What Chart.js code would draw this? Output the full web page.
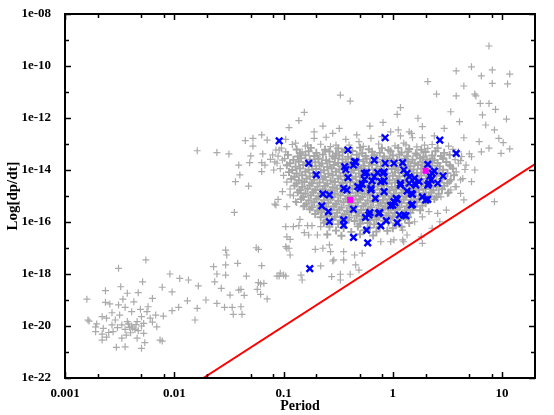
<!DOCTYPE html>
<html>
<head>
<meta charset="utf-8">
<script src="https://cdn.jsdelivr.net/npm/chart.js@4.4.1/dist/chart.umd.min.js"></script>
<style>
  html, body { margin: 0; padding: 0; background: #fff; }
  #wrap { width: 554px; height: 415px; }
</style>
</head>
<body>
<div id="wrap"><canvas id="ppdot" width="554" height="415"></canvas></div>
<script>
// all points are [log10(Period), log10(dP/dt)]

// short period tail and the sparse middle part
const grayLow = [
  [-2.26,-17.46],[-2.51,-17.78],[-2.04,-18.00],[-1.95,-18.17],[-1.87,-18.23],[-2.29,-18.30],[-1.78,-18.46],[-2.49,-18.49],
  [-2.11,-18.51],[-2.63,-18.64],[-2.33,-18.72],[-2.02,-18.69],[-2.43,-18.74],[-2.20,-18.94],[-2.80,-18.97],[-2.47,-18.97],
  [-2.37,-19.07],[-2.63,-19.09],[-1.88,-19.03],[-2.59,-19.15],[-2.51,-19.19],[-2.24,-19.26],[-1.96,-19.28],[-1.79,-19.32],
  [-2.45,-19.28],[-2.31,-19.36],[-2.39,-19.45],[-2.57,-19.49],[-2.02,-19.41],[-2.25,-19.45],[-2.17,-19.58],[-2.10,-19.62],
  [-2.66,-19.64],[-2.50,-19.58],[-2.30,-19.64],[-2.62,-19.70],[-2.22,-19.70],[-2.79,-19.77],[-2.54,-19.77],[-1.81,-19.77],
  [-2.43,-19.83],[-2.34,-19.83],[-2.71,-19.92],[-2.57,-19.96],[-2.48,-19.96],[-2.39,-20.00],[-2.30,-20.00],[-2.16,-20.03],
  [-2.65,-20.09],[-2.45,-20.13],[-2.36,-20.13],[-2.72,-20.22],[-2.56,-20.22],[-2.40,-20.26],[-2.28,-20.28],[-2.62,-20.43],
  [-2.48,-20.47],[-2.34,-20.47],[-2.66,-20.54],[-2.13,-20.54],[-2.27,-20.64],[-2.45,-20.80],[-2.53,-20.82],[-2.30,-20.86],
  [-2.78,-19.81],[-2.72,-20.03],[-2.66,-20.31],[-2.11,-20.58],[-2.41,-20.05],[-2.35,-19.95],[-2.42,-19.92],[-2.38,-20.08],
  [-2.33,-20.18],[-2.44,-20.35],[-2.52,-20.06],[-2.28,-19.90],[-2.20,-19.85],[-2.60,-20.25],
  [-1.71,-19.00],[-1.64,-17.72],[-1.63,-18.30],[-1.61,-18.00],[-1.57,-18.55],[-1.53,-17.08],[-1.52,-17.27],[-1.53,-17.65],
  [-1.42,-17.59],[-1.53,-18.04],[-1.49,-18.81],[-1.41,-18.62],[-1.61,-19.13],[-1.54,-19.28],[-1.47,-19.28],[-1.46,-19.55],
  [-1.39,-19.26],[-1.38,-19.55],[-1.36,-18.82],[-1.34,-18.08],[-1.25,-16.99],[-1.23,-17.05],[-1.20,-17.68],[-1.24,-18.59],
  [-1.23,-18.33],[-1.18,-18.36],[-1.15,-18.96],[-1.06,-18.08],[-1.21,-18.78],[-1.45,-15.63],[-1.08,-15.31],[-1.04,-18.08],
  [-0.98,-18.08],[-1.39,-18.59],[-1.21,-18.38],
  [-1.79,-13.26],[-1.61,-13.33],[-1.50,-13.38],[-1.35,-12.87],[-1.28,-12.78],[-1.20,-12.65],[-1.28,-13.08],[-1.15,-12.85],
  [-1.30,-13.46],[-1.31,-13.72],[-1.41,-13.81],[-1.19,-13.38],[-1.20,-13.72],[-1.40,-14.19],[-1.44,-14.45],[-1.32,-14.62],
  [-1.20,-14.06],[-1.17,-13.81],[-1.12,-13.59],[-1.10,-13.42],[-1.04,-13.23],[-1.01,-13.62],[-1.09,-14.00],[-1.06,-13.74],
  [-1.01,-14.83],[-1.05,-15.13],[-1.07,-15.35],[-0.97,-15.41],[-0.97,-16.57],[-0.97,-17.01]
];

// edges of the main cloud
const grayEdge = [
  [-0.94,-14.96],[-0.89,-15.22],[-0.84,-14.88],[-0.82,-15.41],[-0.85,-15.90],[-0.78,-16.14],[-0.86,-16.14],[-0.74,-16.14],
  [-0.66,-16.18],[-0.77,-16.50],[-0.69,-16.50],[-0.95,-17.01],[-0.94,-17.27],[-1.03,-17.97],[-0.66,-17.69],[-0.58,-16.88],
  [-0.57,-17.14],[-0.54,-17.46],[-0.45,-17.46],[-0.34,-17.65],[-0.48,-18.01],[-0.39,-18.01],[-0.31,-17.85],
  [0.27,-16.82],[0.10,-16.76],[-0.02,-16.76],[-0.11,-16.76],[-0.28,-17.20],[-0.35,-17.27],[-0.45,-17.14],[-0.64,-17.01],
  [-0.71,-17.05],[-0.55,-17.50],[-0.48,-18.23],[-0.56,-18.10],[-0.84,-18.04],[-0.83,-18.23],[-1.00,-18.04],
  [-0.98,-16.18],[-0.91,-16.18],[-0.81,-16.41],[-0.94,-16.67],[-0.98,-16.95],
  [0.33,-15.60],[0.27,-15.80],[0.41,-15.67],[0.49,-15.54],[0.43,-15.99],[0.36,-16.24],[0.26,-16.57],[0.01,-16.69],
  [0.09,-16.69],[0.13,-16.50],[0.09,-16.31],[0.20,-15.99],[0.32,-15.15],[0.44,-15.03],[0.53,-14.77],[0.52,-14.45],
  [0.72,-14.45],[0.62,-14.90],[0.65,-15.15],
  [-1.02,-13.16],[-0.98,-13.30],[-1.05,-13.47],[-0.99,-13.56],[-1.08,-13.69],[-1.03,-13.95],[-1.00,-14.21],[-0.97,-14.47],
  [-0.94,-14.73],[-0.91,-14.99],[-0.88,-15.25],[0.55,-13.21],[0.60,-13.30],[0.63,-13.48],[0.57,-13.60],[0.60,-13.74],
  [0.66,-13.98],[0.58,-14.07],[0.64,-14.33],[0.57,-14.64],
  [-0.92,-13.02],[-0.80,-13.08],[-0.66,-13.01],[-0.57,-13.10],[-0.40,-13.04],[-0.27,-13.09],[-0.13,-13.00],[0.02,-13.07],
  [0.12,-13.03],[0.22,-13.11],[0.36,-13.02]
];

// the dense core, drawn with heavier crosses
const grayCore = [
  [-0.88,-13.21],[-0.75,-13.15],[-0.62,-13.22],[-0.50,-13.17],[-0.44,-13.24],[-0.30,-13.14],[-0.22,-13.20],[-0.10,-13.16],[-0.04,-13.23],[0.05,-13.15],[0.15,-13.19],[0.26,-13.22],[0.41,-13.16],
  [-0.85,-13.35],[-0.77,-13.28],[-0.70,-13.34],[-0.58,-13.29],[-0.52,-13.36],[-0.46,-13.31],[-0.37,-13.27],[-0.28,-13.35],[-0.19,-13.30],[-0.12,-13.34],[-0.02,-13.28],[0.08,-13.33],[0.14,-13.29],[0.21,-13.36],[0.30,-13.31],[0.39,-13.28],[0.47,-13.34],
  [-0.96,-13.42],[-0.87,-13.48],[-0.80,-13.43],[-0.72,-13.46],[-0.64,-13.41],[-0.55,-13.47],[-0.49,-13.44],[-0.41,-13.49],[-0.33,-13.42],[-0.25,-13.46],[-0.17,-13.43],[-0.08,-13.48],[0.00,-13.44],[0.06,-13.41],[0.13,-13.47],[0.22,-13.43],[0.28,-13.49],[0.36,-13.44],[0.44,-13.46],[0.52,-13.42],
  [-0.91,-13.61],[-0.84,-13.55],[-0.76,-13.60],[-0.68,-13.57],[-0.61,-13.62],[-0.53,-13.55],[-0.46,-13.59],[-0.38,-13.56],[-0.31,-13.61],[-0.24,-13.57],[-0.16,-13.54],[-0.09,-13.60],[-0.03,-13.56],[0.04,-13.62],[0.11,-13.57],[0.18,-13.60],[0.25,-13.55],[0.31,-13.59],[0.38,-13.62],[0.46,-13.57],
  [-0.94,-13.74],[-0.86,-13.68],[-0.79,-13.72],[-0.71,-13.70],[-0.65,-13.75],[-0.58,-13.68],[-0.50,-13.73],[-0.43,-13.70],[-0.35,-13.74],[-0.27,-13.67],[-0.21,-13.72],[-0.14,-13.69],[-0.06,-13.74],[0.01,-13.70],[0.08,-13.73],[0.14,-13.68],[0.20,-13.74],[0.27,-13.71],[0.34,-13.67],[0.41,-13.73],[0.49,-13.69],
  [-0.97,-13.82],[-0.89,-13.87],[-0.82,-13.81],[-0.74,-13.86],[-0.67,-13.83],[-0.60,-13.88],[-0.54,-13.81],[-0.47,-13.85],[-0.40,-13.82],[-0.32,-13.87],[-0.26,-13.84],[-0.19,-13.80],[-0.11,-13.86],[-0.04,-13.83],[0.03,-13.88],[0.10,-13.82],[0.16,-13.85],[0.23,-13.81],[0.29,-13.87],[0.36,-13.83],[0.43,-13.86],[0.52,-13.82],
  [-0.92,-14.00],[-0.85,-13.94],[-0.77,-13.99],[-0.70,-13.96],[-0.63,-14.01],[-0.56,-13.94],[-0.49,-13.98],[-0.42,-13.95],[-0.36,-14.00],[-0.29,-13.93],[-0.22,-13.98],[-0.15,-13.95],[-0.08,-14.01],[-0.01,-13.96],[0.05,-13.99],[0.12,-13.94],[0.19,-13.98],[0.26,-13.95],[0.32,-14.00],[0.39,-13.96],[0.46,-13.99],[0.55,-13.94],
  [-0.95,-14.08],[-0.88,-14.13],[-0.80,-14.07],[-0.73,-14.12],[-0.66,-14.09],[-0.59,-14.14],[-0.52,-14.07],[-0.45,-14.11],[-0.38,-14.08],[-0.31,-14.13],[-0.25,-14.06],[-0.18,-14.11],[-0.11,-14.08],[-0.05,-14.13],[0.02,-14.09],[0.09,-14.12],[0.15,-14.07],[0.22,-14.11],[0.29,-14.08],[0.35,-14.13],[0.42,-14.09],[0.50,-14.12],
  [-0.90,-14.26],[-0.83,-14.20],[-0.76,-14.25],[-0.69,-14.22],[-0.62,-14.27],[-0.55,-14.20],[-0.48,-14.24],[-0.41,-14.21],[-0.34,-14.26],[-0.27,-14.19],[-0.21,-14.24],[-0.14,-14.21],[-0.07,-14.26],[0.00,-14.22],[0.06,-14.25],[0.13,-14.20],[0.19,-14.24],[0.26,-14.21],[0.33,-14.26],[0.40,-14.22],[0.47,-14.25],[0.56,-14.20],
  [-0.93,-14.34],[-0.86,-14.39],[-0.79,-14.33],[-0.72,-14.38],[-0.64,-14.35],[-0.57,-14.40],[-0.50,-14.33],[-0.44,-14.37],[-0.37,-14.34],[-0.30,-14.39],[-0.23,-14.32],[-0.16,-14.37],[-0.10,-14.34],[-0.03,-14.39],[0.04,-14.35],[0.11,-14.38],[0.17,-14.33],[0.24,-14.37],[0.31,-14.34],[0.37,-14.39],[0.45,-14.35],[0.53,-14.38],
  [-0.88,-14.52],[-0.81,-14.46],[-0.74,-14.51],[-0.67,-14.48],[-0.60,-14.53],[-0.53,-14.46],[-0.46,-14.50],[-0.39,-14.47],[-0.33,-14.52],[-0.26,-14.45],[-0.19,-14.50],[-0.12,-14.47],[-0.05,-14.52],[0.02,-14.48],[0.08,-14.51],[0.15,-14.46],[0.22,-14.50],[0.28,-14.47],[0.35,-14.52],[0.43,-14.48],[0.50,-14.51],
  [-0.90,-14.60],[-0.83,-14.65],[-0.76,-14.59],[-0.69,-14.64],[-0.62,-14.61],[-0.55,-14.66],[-0.48,-14.59],[-0.42,-14.63],[-0.35,-14.60],[-0.28,-14.65],[-0.21,-14.58],[-0.14,-14.63],[-0.08,-14.60],[-0.01,-14.65],[0.06,-14.61],[0.12,-14.64],[0.19,-14.59],[0.26,-14.63],[0.32,-14.60],[0.40,-14.65],[0.47,-14.61],
  [-0.85,-14.78],[-0.78,-14.72],[-0.71,-14.77],[-0.64,-14.74],[-0.57,-14.79],[-0.51,-14.72],[-0.44,-14.76],[-0.37,-14.73],[-0.30,-14.78],[-0.24,-14.71],[-0.17,-14.76],[-0.10,-14.73],[-0.03,-14.78],[0.03,-14.74],[0.10,-14.77],[0.17,-14.72],[0.24,-14.76],[0.30,-14.73],[0.37,-14.78],[0.45,-14.74],
  [-0.87,-14.86],[-0.80,-14.91],[-0.73,-14.85],[-0.66,-14.90],[-0.59,-14.87],[-0.53,-14.92],[-0.46,-14.85],[-0.39,-14.89],[-0.32,-14.86],[-0.26,-14.91],[-0.19,-14.84],[-0.12,-14.89],[-0.05,-14.86],[0.01,-14.91],[0.08,-14.87],[0.14,-14.90],[0.21,-14.85],[0.28,-14.89],[0.35,-14.86],[0.42,-14.91],[0.51,-14.87],
  [-0.82,-15.04],[-0.75,-14.98],[-0.68,-15.03],[-0.61,-15.00],[-0.55,-15.05],[-0.48,-14.98],[-0.41,-15.02],[-0.34,-14.99],[-0.28,-15.04],[-0.21,-14.97],[-0.14,-15.02],[-0.07,-14.99],[-0.01,-15.04],[0.06,-15.00],[0.12,-15.03],[0.19,-14.98],[0.26,-15.02],[0.33,-14.99],[0.40,-15.04],
  [-0.84,-15.12],[-0.77,-15.17],[-0.70,-15.11],[-0.63,-15.16],[-0.57,-15.13],[-0.50,-15.18],[-0.43,-15.11],[-0.36,-15.15],[-0.30,-15.12],[-0.23,-15.17],[-0.16,-15.10],[-0.09,-15.15],[-0.03,-15.12],[0.04,-15.17],[0.10,-15.13],[0.17,-15.16],[0.24,-15.11],[0.31,-15.15],[0.38,-15.12],
  [-0.79,-15.30],[-0.72,-15.24],[-0.65,-15.29],[-0.59,-15.26],[-0.52,-15.31],[-0.45,-15.24],[-0.38,-15.28],[-0.32,-15.25],[-0.25,-15.30],[-0.18,-15.23],[-0.11,-15.28],[-0.05,-15.25],[0.02,-15.30],[0.08,-15.26],[0.15,-15.29],[0.22,-15.24],[0.30,-15.28],
  [-0.81,-15.38],[-0.74,-15.43],[-0.67,-15.37],[-0.61,-15.42],[-0.54,-15.39],[-0.47,-15.44],[-0.40,-15.37],[-0.34,-15.41],[-0.27,-15.38],[-0.20,-15.43],[-0.13,-15.36],[-0.07,-15.41],[0.00,-15.38],[0.06,-15.43],[0.13,-15.39],[0.20,-15.42],[0.27,-15.37],
  [-0.76,-15.51],[-0.69,-15.56],[-0.63,-15.50],[-0.56,-15.55],[-0.49,-15.52],[-0.42,-15.57],[-0.36,-15.50],[-0.29,-15.54],[-0.22,-15.51],[-0.15,-15.56],[-0.09,-15.49],[-0.02,-15.54],[0.04,-15.51],[0.11,-15.56],[0.18,-15.52],[0.25,-15.55],
  [-0.71,-15.69],[-0.65,-15.63],[-0.58,-15.68],[-0.51,-15.65],[-0.44,-15.70],[-0.38,-15.63],[-0.31,-15.67],[-0.24,-15.64],[-0.17,-15.69],[-0.11,-15.62],[-0.04,-15.67],[0.02,-15.64],[0.09,-15.69],[0.16,-15.65],
  [-0.66,-15.82],[-0.60,-15.76],[-0.53,-15.81],[-0.46,-15.78],[-0.40,-15.83],[-0.33,-15.76],[-0.26,-15.80],[-0.19,-15.77],[-0.13,-15.82],[-0.06,-15.75],[0.00,-15.80],[0.07,-15.77],[0.14,-15.82],
  [-0.61,-15.95],[-0.55,-15.89],[-0.48,-15.94],[-0.41,-15.91],[-0.35,-15.96],[-0.28,-15.89],[-0.21,-15.93],[-0.15,-15.90],[-0.08,-15.95],[-0.02,-15.88],[0.05,-15.93],[0.11,-15.90],
  [-0.63,-16.03],[-0.50,-16.08],[-0.43,-16.02],[-0.30,-16.07],[-0.23,-16.04],[-0.17,-16.09],[-0.04,-16.02],[0.03,-16.06],[0.15,-16.04],
  [-0.58,-16.18],[-0.45,-16.23],[-0.32,-16.17],[-0.21,-16.22],[-0.12,-16.19],[0.00,-16.24],[0.08,-16.18],
  [-0.52,-16.33],[-0.38,-16.38],[-0.26,-16.32],[-0.15,-16.37],[-0.05,-16.34],[-0.60,-16.48],[-0.47,-16.53],[-0.30,-16.47],[-0.18,-16.52]
];

// sparse points above the cloud, long periods
const grayHigh = [
  [-0.48,-11.12],[-0.39,-11.35],[-0.81,-11.78],[-0.86,-12.10],[-0.95,-12.37],[-0.64,-12.31],[-0.72,-12.53],[-0.49,-12.40],
  [-0.55,-12.59],[-0.21,-12.31],[-0.09,-12.17],[0.07,-11.60],[0.04,-11.86],[0.23,-12.01],[0.32,-10.60],[0.40,-11.08],
  [0.58,-10.19],[0.72,-10.03],[0.81,-10.38],[0.91,-10.15],[0.88,-9.23],[1.07,-10.31],[1.05,-10.69],[0.91,-10.67],
  [0.65,-10.77],[0.76,-11.15],[0.53,-11.76],[0.88,-11.44],[0.94,-11.67],[0.82,-11.88],[1.04,-12.04],[0.61,-12.14],
  [0.47,-12.40],[0.65,-12.76],[0.85,-12.27],[0.79,-12.91],[0.97,-12.78],[1.07,-13.19],[0.99,-13.36],[0.72,-13.49],
  [0.81,-13.30],[0.32,-13.17],[0.27,-12.76],[0.17,-12.59],[0.10,-12.97],[-0.02,-12.53],[-0.10,-12.72],[-0.20,-12.78],
  [-0.33,-12.65],[-0.31,-12.91],[-0.43,-12.82],[-0.61,-12.74],[-0.52,-13.04],[-0.72,-12.78],[-0.78,-13.04],[-0.89,-12.97],
  [-0.98,-12.82],[-1.07,-13.23],[-0.83,-13.30],[-0.69,-13.49],[0.53,-13.87],[0.67,-13.81],[0.75,-14.00],[0.62,-14.38],
  [0.58,-14.64],[0.50,-14.90],[0.93,-15.22],[0.58,-11.15],[0.75,-11.08],[0.80,-11.44],[0.27,-12.33],[0.93,-12.46],
  [0.15,-12.53],[0.07,-12.69],[0.18,-12.76],[0.05,-12.46],[0.38,-12.69],[1.01,-12.95],[0.29,-13.04],[0.51,-13.08],
  [0.70,-13.38],[0.36,-13.55],[0.46,-13.53],[0.62,-13.64],[0.88,-13.16]
];

const bluePts = [
  [-1.04,-12.88],[-0.07,-12.76],[0.43,-12.85],[-0.41,-13.23],[0.58,-13.36],[-0.77,-13.74],[-0.17,-13.62],[-0.35,-13.68],
  [-0.07,-13.74],[0.01,-13.74],[0.09,-13.72],[0.32,-13.78],[0.46,-14.23],[-0.36,-13.81],[-0.44,-13.87],[-0.70,-14.19],
  [-0.41,-14.29],[-0.24,-14.10],[-0.14,-14.10],[-0.09,-14.13],[0.10,-14.00],[0.13,-14.13],[0.20,-14.32],[0.24,-14.45],
  [0.34,-14.23],[0.38,-14.04],[0.35,-14.38],[-0.26,-14.36],[-0.28,-14.54],[-0.19,-14.42],[-0.08,-14.42],[0.07,-14.58],
  [0.15,-14.51],[0.21,-14.58],[-0.45,-14.71],[-0.42,-14.77],[-0.30,-14.71],[-0.20,-14.71],[-0.08,-14.83],[0.13,-14.81],
  [0.18,-14.94],[0.27,-15.03],[0.32,-15.13],[-0.64,-14.92],[-0.58,-14.96],[-0.16,-15.09],[0.04,-15.13],[0.01,-15.22],
  [-0.65,-15.38],[-0.36,-15.51],[-0.21,-15.64],[-0.59,-15.60],[-0.25,-15.82],[-0.06,-15.95],[0.06,-15.73],[0.12,-15.76],
  [-0.58,-15.99],[-0.11,-16.15],[0.04,-16.03],[-0.24,-16.31],[-0.36,-16.59],[-0.23,-16.80],[-0.45,-15.92],[-0.45,-16.12],
  [-0.12,-15.64],[-0.02,-15.37],[0.18,-15.32],[-0.76,-17.79],[-0.43,-13.98],[-0.26,-14.13],[-0.34,-13.70],[-0.32,-14.64],
  [-0.17,-14.26],[-0.08,-14.07],[0.15,-14.26],[0.36,-14.13],[-0.11,-14.45],[0.07,-14.51],[0.32,-14.58],[0.41,-14.51],
  [0.20,-14.51],[0.33,-14.51],[-0.20,-14.77],[0.17,-14.90],[0.03,-15.09],[0.00,-15.35],[0.17,-15.35],[0.10,-15.73],
  [-0.22,-15.73],[-0.13,-15.67],[0.30,-15.15],[0.02,-15.26]
];

const magentaPts = [[-0.39,-15.15],[0.30,-14.03]];

// straight line in the log-log plane, end points on the frame
const deathLine = [[-1.734,-22.0],[1.301,-13.77]];

const xMajor = [0.001, 0.01, 0.1, 1, 10];
const xTickLabels = ['0.001', '0.01', '0.1', '1', '10'];
const xMinor = [0.002, 0.005, 0.008, 0.02, 0.05, 0.08, 0.2, 0.5, 0.8, 2, 5, 8];
const yMajor = [1e-8, 1e-10, 1e-12, 1e-14, 1e-16, 1e-18, 1e-20, 1e-22];
const yTickLabels = ['1e-08', '1e-10', '1e-12', '1e-14', '1e-16', '1e-18', '1e-20', '1e-22'];
const yMinor = [1e-9, 1e-11, 1e-13, 1e-15, 1e-17, 1e-19, 1e-21];

function toPts(arr) {
  return arr.map(p => ({ x: Math.pow(10, p[0]), y: Math.pow(10, p[1]) }));
}

const serif = 'Liberation Serif, Times New Roman, serif';

// black box with inward ticks on all four sides
const frame = {
  id: 'frame',
  afterDatasetsDraw(chart) {
    const { ctx, chartArea: a, scales } = chart;
    const x = scales.x, y = scales.y;
    ctx.save();
    ctx.strokeStyle = '#000';
    ctx.lineWidth = 1.5;
    ctx.beginPath();
    function xt(v, len) {
      const px = Math.round(x.getPixelForValue(v)) + 0.5;
      ctx.moveTo(px, a.bottom); ctx.lineTo(px, a.bottom - len);
      ctx.moveTo(px, a.top); ctx.lineTo(px, a.top + len);
    }
    function yt(v, len) {
      const py = Math.round(y.getPixelForValue(v)) + 0.5;
      ctx.moveTo(a.left, py); ctx.lineTo(a.left + len, py);
      ctx.moveTo(a.right, py); ctx.lineTo(a.right - len, py);
    }
    xMajor.forEach(v => xt(v, 6));
    xMinor.forEach(v => xt(v, 4));
    yMajor.forEach(v => yt(v, 6));
    yMinor.forEach(v => yt(v, 4));
    ctx.stroke();
    ctx.lineWidth = 2;
    ctx.strokeRect(a.left, a.top, a.right - a.left, a.bottom - a.top);
    ctx.restore();
  }
};

new Chart(document.getElementById('ppdot'), {
  type: 'scatter',
  data: {
    datasets: [
      {
        label: 'magenta',
        data: toPts(magentaPts),
        pointStyle: 'rect',
        pointRadius: 4.3,
        backgroundColor: '#ff00ff',
        borderColor: '#ff00ff',
        pointBorderWidth: 0,
        order: 0
      },
      {
        label: 'blue',
        data: toPts(bluePts),
        pointStyle: 'crossRot',
        pointRadius: 4.6,
        borderColor: '#0000ff',
        backgroundColor: '#0000ff',
        pointBorderWidth: 2.4,
        order: 1
      },
      {
        label: 'line',
        data: toPts(deathLine),
        showLine: true,
        borderColor: '#ff0000',
        borderWidth: 2,
        pointRadius: 0,
        order: 2
      },
      {
        label: 'gray core',
        data: toPts(grayCore),
        pointStyle: 'cross',
        pointRadius: 4,
        borderColor: '#a6a6a6',
        backgroundColor: '#a6a6a6',
        pointBorderWidth: 1.9,
        order: 3
      },
      {
        label: 'gray',
        data: toPts(grayLow.concat(grayEdge, grayHigh)),
        pointStyle: 'cross',
        pointRadius: 3.5,
        borderColor: '#aaaaaa',
        backgroundColor: '#aaaaaa',
        pointBorderWidth: 1.2,
        order: 4
      }
    ]
  },
  options: {
    responsive: false,
    devicePixelRatio: 1,
    animation: false,
    events: [],
    layout: { padding: { top: 14, right: 19, left: 0, bottom: 0 } },
    plugins: { legend: { display: false }, tooltip: { enabled: false } },
    scales: {
      x: {
        type: 'logarithmic',
        min: 0.001,
        max: 20,
        grid: { display: false },
        border: { display: false },
        afterBuildTicks: s => { s.ticks = xMajor.map(v => ({ value: v })); },
        afterFit: s => { s.height = 37; },
        ticks: {
          autoSkip: false,
          maxRotation: 0,
          padding: 0,
          color: '#000',
          font: { family: serif, size: 13, weight: 'bold' },
          callback: (v, i) => xTickLabels[i]
        },
        title: {
          display: true,
          text: 'Period',
          color: '#000',
          font: { family: serif, size: 14, weight: 'bold' },
          padding: { top: 0, bottom: 0 }
        }
      },
      y: {
        type: 'logarithmic',
        min: 1e-22,
        max: 1e-8,
        grid: { display: false },
        border: { display: false },
        afterBuildTicks: s => { s.ticks = yMajor.map(v => ({ value: v })); },
        afterFit: s => { s.width = 65; },
        ticks: {
          autoSkip: false,
          padding: 6,
          color: '#000',
          font: { family: serif, size: 13, weight: 'bold' },
          callback: (v, i) => yTickLabels[i]
        },
        title: {
          display: true,
          text: 'Log[dp/dt]',
          color: '#000',
          font: { family: serif, size: 15, weight: 'bold' },
          padding: { top: 4, bottom: 0 }
        }
      }
    }
  },
  plugins: [frame]
});
</script>
</body>
</html>
